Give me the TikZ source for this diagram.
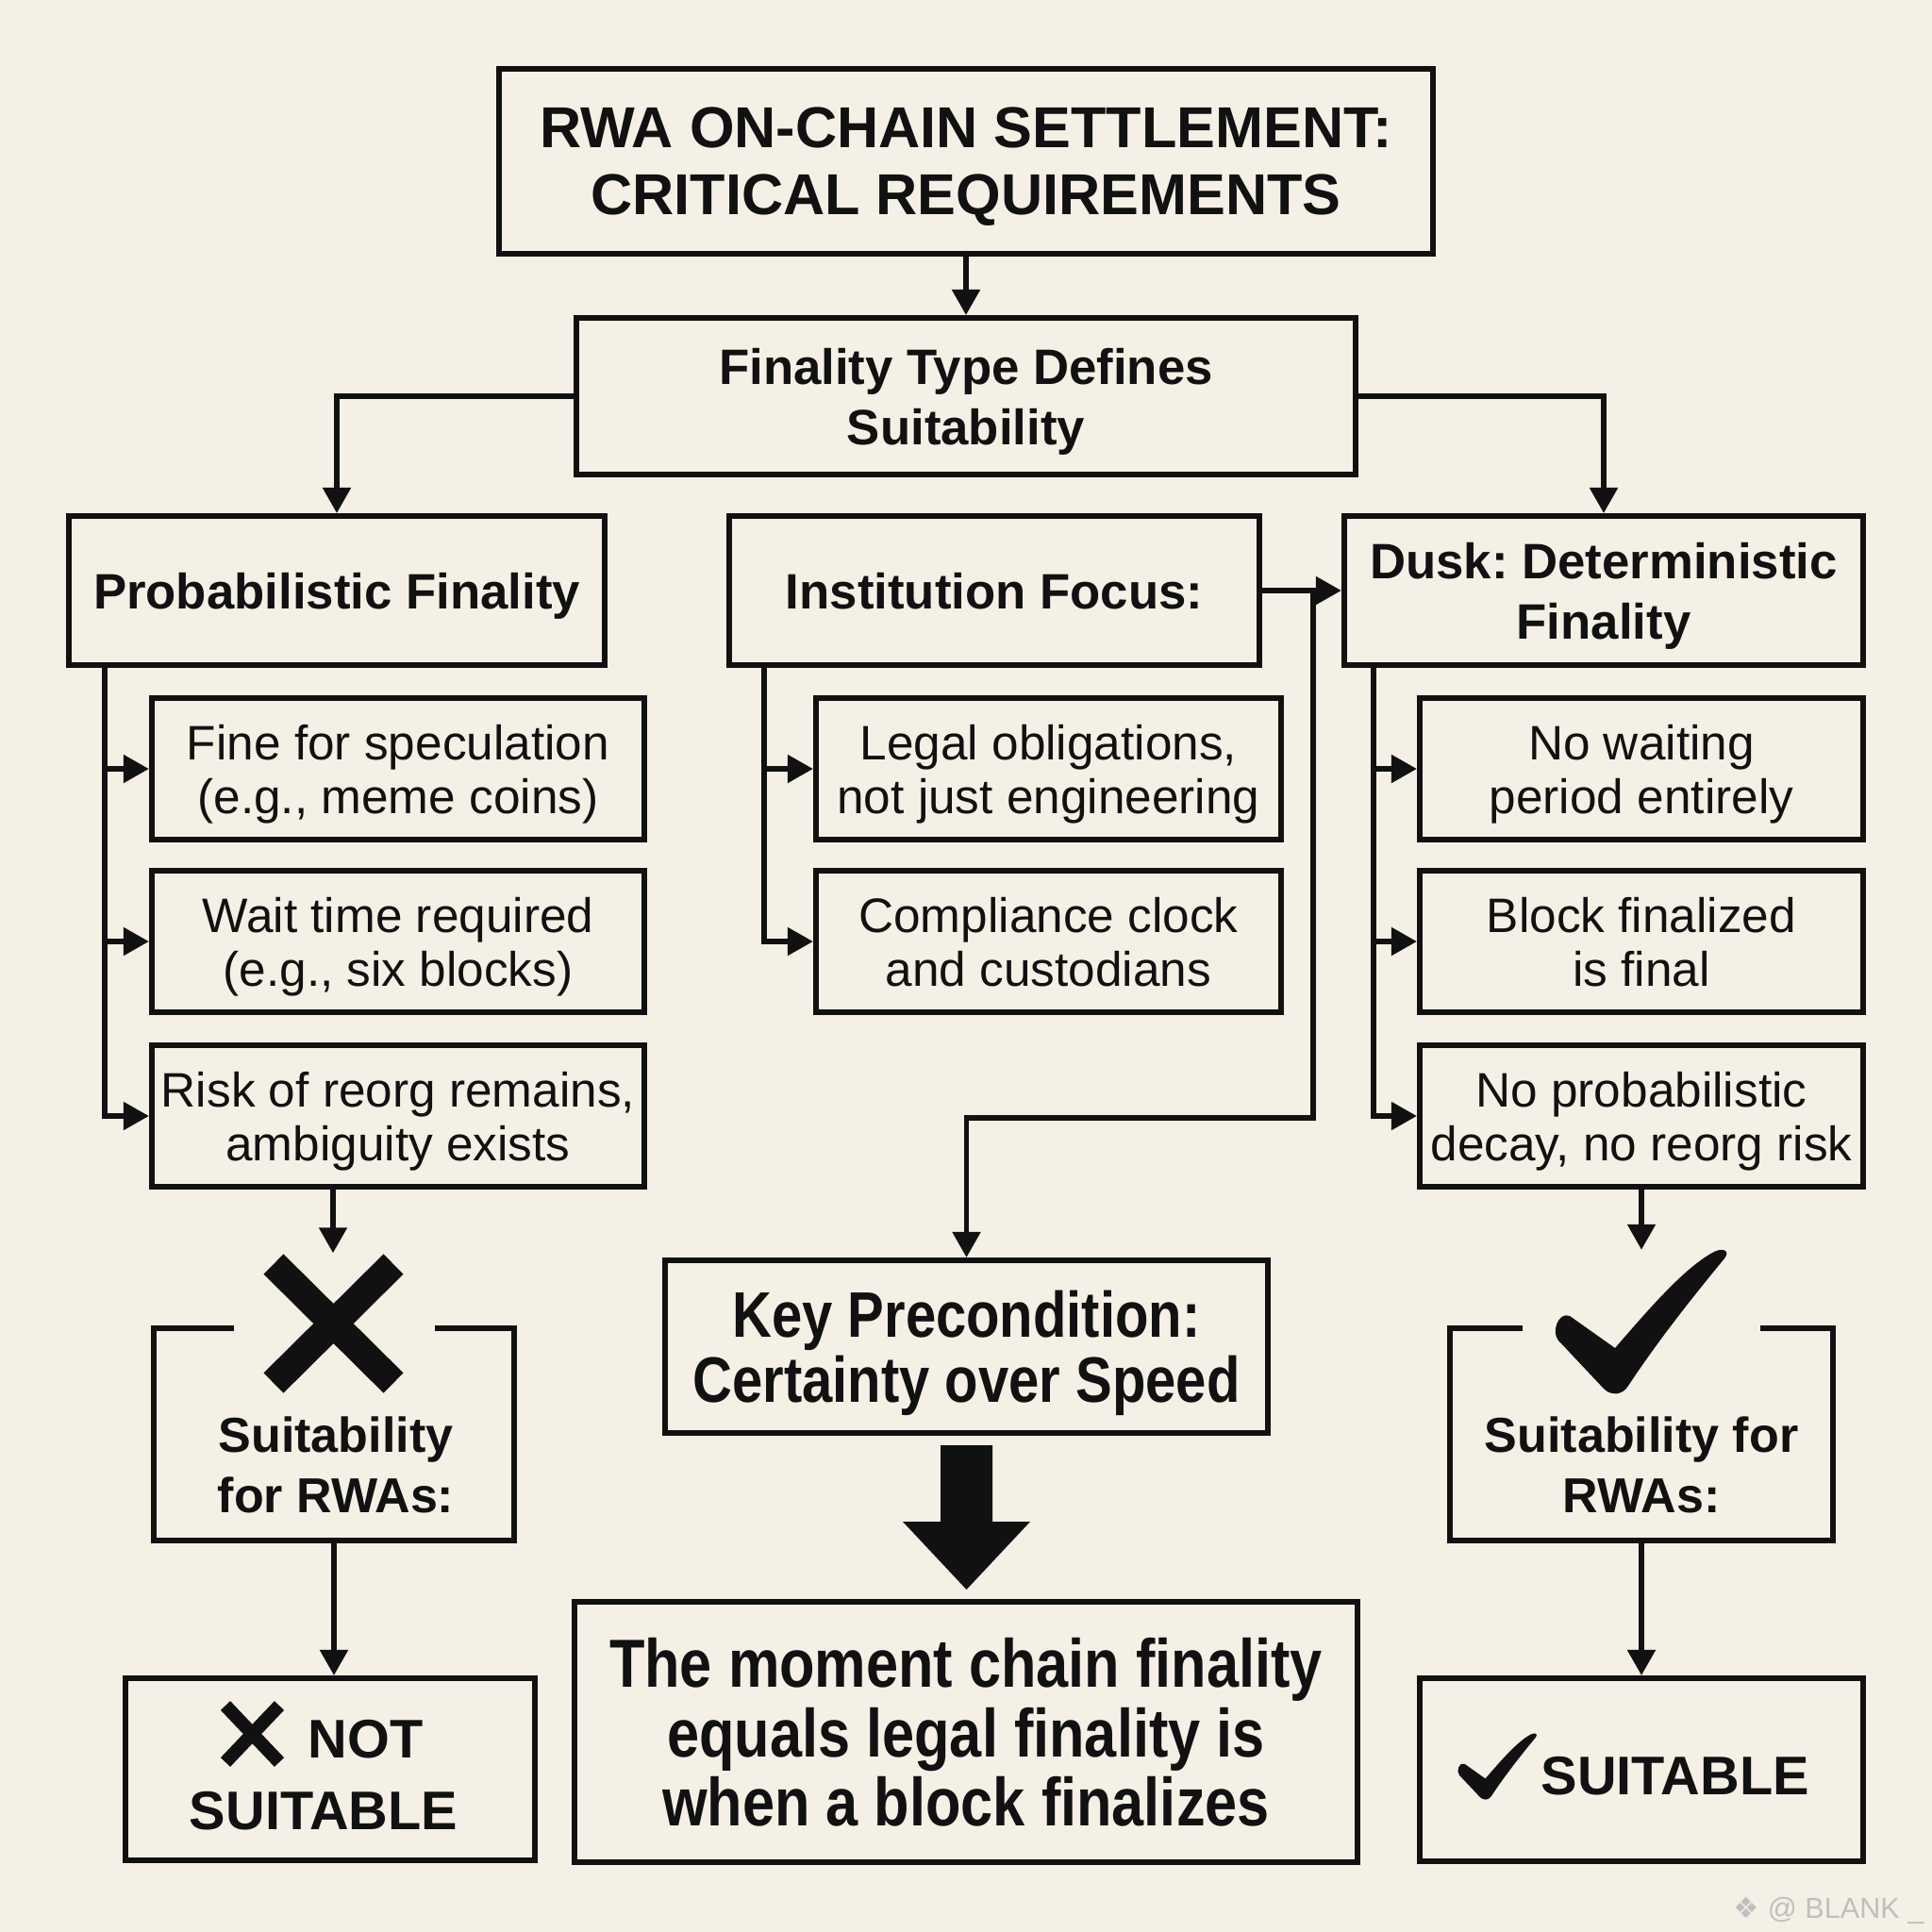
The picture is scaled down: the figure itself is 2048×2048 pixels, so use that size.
\documentclass[tikz,border=0pt]{standalone}
\usepackage{fontspec}
\setmainfont{Liberation Sans}
\newfontfamily\condfont[FakeStretch=0.85]{Liberation Sans}
\newfontfamily\dejavu{DejaVu Sans}
\usetikzlibrary{arrows.meta}
\definecolor{bgc}{RGB}{245,240,230}
\definecolor{ink}{RGB}{17,17,17}
\begin{document}
\frenchspacing
\begin{tikzpicture}[x=0.01cm,y=-0.01cm,
  box/.style={draw=ink, line width=1.7pt, inner sep=0pt, align=center, text=ink, text depth=0pt},
  bx/.style={draw=ink, line width=1.7pt},
  conn/.style={draw=ink, line width=1.5pt, -{Triangle[length=0.27cm,width=0.29cm]}},
  ln/.style={draw=ink, line width=1.5pt},
  titlef/.style={font=\fontsize{17.4}{20.2}\selectfont\bfseries},
  hdr/.style={font=\fontsize{15}{18.2}\selectfont\bfseries},
  subf/.style={font=\fontsize{14.6}{16.2}\selectfont},
  suitf/.style={font=\fontsize{14.8}{18.2}\selectfont\bfseries, align=center, inner sep=0pt, text=ink},
  bigf/.style={font=\fontsize{16.4}{20}\selectfont\bfseries, inner sep=0pt, text=ink},
  hdrbox/.style={box, hdr, minimum height=1.58cm},
  subbox/.style={box, subf, minimum height=1.5cm},
  markn/.style={inner sep=0pt, draw=none}
]
\useasboundingbox (0,0) rectangle (2048,2048);
\fill[bgc] (0,0) rectangle (2048,2048);

% top
\node[box, titlef, text depth=-0.12cm, minimum width=9.9cm, minimum height=1.96cm] (title) at (1024,171) {RWA ON-CHAIN SETTLEMENT:\\CRITICAL REQUIREMENTS};
\node[box, hdr, text depth=-0.07cm, minimum width=8.26cm, minimum height=1.66cm] (fin) at (1024,420) {Finality Type Defines\\Suitability};

% headers
\node[hdrbox, minimum width=5.68cm] (prob) at (357,626) {Probabilistic Finality};
\node[hdrbox, minimum width=5.62cm] (inst) at (1054,626) {Institution Focus:};
\node[hdrbox, minimum width=5.50cm] (dusk) at (1700,626) {Dusk: Deterministic\\Finality};

% sub boxes
\node[subbox, minimum width=5.22cm] (pa) at (422,815) {Fine for speculation\\(e.g., meme coins)};
\node[subbox, minimum width=5.22cm] (pb) at (422,998) {Wait time required\\(e.g., six blocks)};
\node[subbox, minimum width=5.22cm] (pc) at (422,1183) {Risk of reorg remains,\\ambiguity exists};
\node[subbox, minimum width=4.93cm] (ia) at (1111.5,815) {Legal obligations,\\not just engineering};
\node[subbox, minimum width=4.93cm] (ib) at (1111.5,998) {Compliance clock\\and custodians};
\node[subbox, minimum width=4.70cm] (da) at (1740,815) {No waiting\\period entirely};
\node[subbox, minimum width=4.70cm] (db) at (1740,998) {Block finalized\\is final};
\node[subbox, minimum width=4.70cm] (dc) at (1740,1183) {No probabilistic\\decay, no reorg risk};

% middle lower
\node[box, font=\fontsize{19.4}{19.6}\condfont\bfseries, minimum width=6.39cm, minimum height=1.83cm] (key) at (1024.5,1427.5) {Key Precondition:\\Certainty over Speed};
\node[box, font=\fontsize{20.5}{21}\condfont\bfseries, minimum width=8.30cm, minimum height=2.76cm] (moment) at (1024,1836) {The moment chain finality\\equals legal finality is\\when a block finalizes};

% connectors top
\draw[conn] (title) -- (fin);
\draw[conn] (fin.west) -| (prob.north);
\draw[conn] (fin.east) -| (dusk.north);

\coordinate (lb) at (111,0);
\coordinate (mb) at (810,0);
\coordinate (rb) at (1456,0);
\coordinate (jn) at (1392,0);
\coordinate (hz) at (0,1185);

\draw[conn] (lb |- prob.south) |- (pc.west);
\draw[conn] (lb |- pa.west) -- (pa.west);
\draw[conn] (lb |- pb.west) -- (pb.west);

\draw[conn] (mb |- inst.south) |- (ib.west);
\draw[conn] (mb |- ia.west) -- (ia.west);

\draw[conn] (rb |- dusk.south) |- (dc.west);
\draw[conn] (rb |- da.west) -- (da.west);
\draw[conn] (rb |- db.west) -- (db.west);

\draw[conn] (inst.east) -- (dusk.west);
\draw[conn] (jn |- inst.east) -- (jn |- hz) -| (key.north);

% big arrow
\fill[ink] (997,1532) -- (1052,1532) -- (1052,1613) -- (1092,1613) -- (1024.5,1685) -- (957,1613) -- (997,1613) -- cycle;

% left column bottom
\node[markn, minimum width=1.49cm, minimum height=1.48cm] (xl) at (353,1403) {};
\draw[conn] (pc.south -| xl.north) -- (xl.north);
\draw[ink, line width=8.5pt] (290,1340) -- (417,1466) (417,1340) -- (290,1466);

\node[markn, minimum width=3.8cm, minimum height=2.23cm] (lsuit) at (354,1520.5) {};
\draw[bx] ([xshift=0.85cm]lsuit.north west) -- (lsuit.north west) -- (lsuit.south west) -- (lsuit.south east) -- (lsuit.north east) -- ([xshift=-0.84cm]lsuit.north east);
\node[suitf] (lsuittxt) at (356,1553) {Suitability\\for RWAs:};

\node[box, minimum width=4.34cm, minimum height=1.93cm] (ns) at (350,1875.5) {};
\draw[conn] (lsuit.south) -- (lsuit.south |- ns.north);
\draw[ink, line width=4pt] (239,1808) -- (296,1868) (296,1808) -- (239,1868);
\node[bigf, anchor=base west] (nsnot) at (326,1863) {NOT};
\node[bigf, anchor=base] (nssuit) at (343,1939) {SUITABLE};

% right column bottom
\node[markn, minimum width=1.82cm, minimum height=1.51cm] (ck) at (1740,1401) {};
\draw[conn] (dc.south -| ck.north) -- (ck.north);
\begin{scope}[shift={(1650,1326)}]
\fill[ink] (14,69) -- (62,103) .. controls (100,59) and (135,19) .. (165,2) .. controls (175,-4) and (185,-1) .. (178,8) .. controls (140,54) and (105,99) .. (76,143) .. controls (70,153) and (58,154) .. (50,146) -- (2,95) .. controls (-6,86) and (2,64) .. (14,69) -- cycle;
\end{scope}

\node[markn, minimum width=4.04cm, minimum height=2.23cm] (rsuit) at (1740,1520.5) {};
\draw[bx] ([xshift=0.77cm]rsuit.north west) -- (rsuit.north west) -- (rsuit.south west) -- (rsuit.south east) -- (rsuit.north east) -- ([xshift=-0.77cm]rsuit.north east);
\node[suitf] (rsuittxt) at (1740,1553) {Suitability for\\RWAs:};

\node[box, minimum width=4.70cm, minimum height=1.94cm] (su) at (1740,1876) {};
\draw[conn] (rsuit.south) -- (rsuit.south |- su.north);
\begin{scope}[shift={(1546,1838)}, scale=0.46]
\fill[ink] (14,69) -- (62,103) .. controls (100,59) and (135,19) .. (165,2) .. controls (175,-4) and (185,-1) .. (178,8) .. controls (140,54) and (105,99) .. (76,143) .. controls (70,153) and (58,154) .. (50,146) -- (2,95) .. controls (-6,86) and (2,64) .. (14,69) -- cycle;
\end{scope}
\node[bigf, anchor=base west] (sutxt) at (1633,1902) {SUITABLE};

% watermark
\node[font=\fontsize{8.7}{10}\selectfont, text=black!25, anchor=base east, inner sep=0pt] (wm) at (2040,2033) {{\dejavu ❖} @ BLANK \_};
\end{tikzpicture}
\end{document}
